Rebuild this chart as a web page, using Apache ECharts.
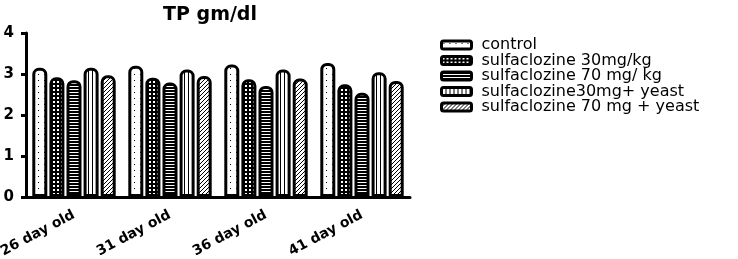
<!DOCTYPE html>
<html>
<head>
<meta charset="utf-8">
<script src="https://cdn.jsdelivr.net/npm/echarts@6/dist/echarts.min.js"></script>
<style>
  html, body { margin: 0; padding: 0; background: #fff; }
  #TPChart { width: 738px; height: 259px; }
</style>
</head>
<body>
<div id="TPChart"></div>
<script>
// data
var ages = ['26 day old', '31 day old', '36 day old', '41 day old'];
var groupNames = ['control', 'sulfaclozine 30mg/kg', 'sulfaclozine 70 mg/ kg', 'sulfaclozine30mg+ yeast', 'sulfaclozine 70 mg + yeast'];
var control = [3.15, 3.20, 3.23, 3.27];
var sulf30 = [2.92, 2.91, 2.87, 2.75];
var sulf70 = [2.85, 2.79, 2.71, 2.54];
var sulf30Yeast = [3.15, 3.11, 3.11, 3.04];
var sulf70Yeast = [2.97, 2.95, 2.89, 2.83];
var yTicks = [0, 1, 2, 3, 4];

// small canvas patterns to mimic the b/w fills
function makePattern(w, h, draw) {
  var c = document.createElement('canvas');
  c.width = w;
  c.height = h;
  var ctx = c.getContext('2d');
  ctx.fillStyle = '#fff';
  ctx.fillRect(0, 0, w, h);
  ctx.fillStyle = '#000';
  ctx.strokeStyle = '#000';
  draw(ctx);
  return { image: c, repeat: 'repeat' };
}

var dotsFill = makePattern(6, 6, function (ctx) {
  ctx.fillRect(2, 2, 1, 1);
});
var checkFill = makePattern(4, 4, function (ctx) {
  ctx.fillRect(0, 0, 4, 4);
  ctx.fillStyle = '#fff';
  ctx.fillRect(1, 1, 2, 2);
});
var hStripeFill = makePattern(4, 3, function (ctx) {
  ctx.fillRect(0, 0, 4, 2);
});
var vStripeFill = makePattern(4, 4, function (ctx) {
  ctx.fillRect(0, 0, 1, 4);
});
var hatchFill = makePattern(4, 4, function (ctx) {
  ctx.lineWidth = 1;
  ctx.beginPath();
  ctx.moveTo(0, 4);
  ctx.lineTo(4, 0);
  ctx.moveTo(-1, 1);
  ctx.lineTo(1, -1);
  ctx.moveTo(3, 5);
  ctx.lineTo(5, 3);
  ctx.stroke();
});

function barSeries(name, values, fill) {
  return {
    name: name,
    type: 'bar',
    data: values,
    barWidth: 15,
    barGap: '14%',
    itemStyle: {
      color: fill,
      borderColor: '#000',
      borderWidth: 3,
      borderRadius: [5, 5, 0, 0]
    }
  };
}

var chart = echarts.init(document.getElementById('TPChart'));
var option = {
  animation: false,
  backgroundColor: '#fff',
  title: {
    text: 'TP gm/dl',
    left: 205,
    textAlign: 'center',
    top: 1,
    textStyle: {
      fontFamily: 'DejaVu Sans',
      fontWeight: 'bold',
      fontSize: 19,
      color: '#000'
    }
  },
  legend: {
    orient: 'vertical',
    left: 435,
    top: 32,
    itemWidth: 30,
    itemHeight: 8,
    itemGap: -0.5,
    data: groupNames,
    itemStyle: {
      borderColor: '#000',
      borderWidth: 3
    },
    textStyle: {
      fontFamily: 'DejaVu Sans',
      fontSize: 16,
      color: '#000',
      padding: [0, 0, 0, 5]
    }
  },
  grid: {
    left: 26,
    top: 33,
    width: 384,
    bottom: 62,
    outerBoundsMode: 'none'
  },
  xAxis: {
    type: 'category',
    data: ages,
    axisLine: { lineStyle: { color: '#000', width: 3 } },
    axisTick: { alignWithLabel: true, length: 5, lineStyle: { color: '#000', width: 3 } },
    axisLabel: {
      rotate: 28,
      margin: 17,
      color: '#000',
      fontFamily: 'DejaVu Sans',
      fontWeight: 'bold',
      fontSize: 14
    }
  },
  yAxis: {
    type: 'value',
    min: yTicks[0],
    max: yTicks[yTicks.length - 1],
    interval: 1,
    splitLine: { show: false },
    axisLine: { show: true, lineStyle: { color: '#000', width: 3 } },
    axisTick: { show: true, length: 5, lineStyle: { color: '#000', width: 3 } },
    axisLabel: {
      margin: 12,
      color: '#000',
      fontFamily: 'DejaVu Sans',
      fontWeight: 'bold',
      fontSize: 15
    }
  },
  series: [
    barSeries(groupNames[0], control, dotsFill),
    barSeries(groupNames[1], sulf30, checkFill),
    barSeries(groupNames[2], sulf70, hStripeFill),
    barSeries(groupNames[3], sulf30Yeast, vStripeFill),
    barSeries(groupNames[4], sulf70Yeast, hatchFill)
  ]
};
chart.setOption(option);
window.addEventListener('resize', function () {
  chart.resize();
});
</script>
</body>
</html>
